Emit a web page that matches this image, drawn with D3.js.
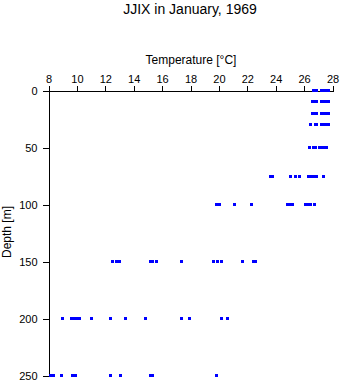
<!DOCTYPE html>
<html><head><meta charset="utf-8">
<script src="https://cdn.jsdelivr.net/npm/d3@7/dist/d3.min.js"></script>
<style>body{margin:0;background:#fff}svg{display:block}text{font-family:"Liberation Sans",Arial,sans-serif;fill:#000}</style>
</head><body><svg id="c" width="341" height="384"></svg>
<script>
const title = "JJIX in January, 1969";
const xLabel = "Temperature [°C]";
const yLabel = "Depth [m]";
const xTicks = [8,10,12,14,16,18,20,22,24,26,28];
const yTicks = [0,50,100,150,200,250];
const depths = [0,10,20,30,50,75,100,150,200,250];
const temps = [
  [26.66,26.8,26.9,27.25,27.4,27.55,27.7],
  [26.6,26.75,26.9,27.25,27.4,27.55,27.7],
  [26.6,26.75,26.9,27.25,27.4,27.55,27.7],
  [26.45,26.8,26.9,27.25,27.4,27.55,27.7],
  [26.4,26.66,26.8,27.1,27.25,27.4,27.55,27.6],
  [23.65,23.8,25.05,25.4,25.65,26.3,26.5,26.7,26.9,27.4],
  [19.85,20.05,21.1,22.3,24.8,25.0,25.15,26.1,26.3,26.45,26.7],
  [12.5,12.8,13.0,15.15,15.3,15.6,17.4,19.6,19.9,20.2,21.65,22.45,22.6],
  [9.0,9.6,9.8,10.0,10.15,11.05,12.4,13.4,14.8,17.4,17.9,20.2,20.6],
  [8.15,8.35,8.9,9.7,9.9,12.4,13.05,15.15,15.3,19.8]
];

const svg = d3.select("#c");
const x = d3.scaleLinear().domain([8,28]).range([48,332]);
const y = d3.scaleLinear().domain([0,250]).range([90,375]);

svg.append("text").attr("x",190).attr("y",14).attr("text-anchor","middle")
  .style("font-size","14px").text(title);
svg.append("text").attr("x",191).attr("y",64).attr("text-anchor","middle")
  .style("font-size","12px").text(xLabel);
svg.append("text").attr("transform","translate(11,232) rotate(-90)").attr("text-anchor","middle")
  .style("font-size","12px").text(yLabel);

const gx = svg.append("g").attr("transform","translate(0.5,90.5)")
  .call(d3.axisTop(x).tickValues(xTicks).tickSize(5).tickSizeOuter(5).tickPadding(3));
const gy = svg.append("g").attr("transform","translate(48.5,0.5)")
  .call(d3.axisLeft(y).tickValues(yTicks).tickSize(6).tickSizeOuter(0).tickPadding(5));
[gx,gy].forEach(g=>{
  g.select(".domain").attr("stroke","#000").attr("stroke-width",1).attr("shape-rendering","crispEdges");
  g.selectAll(".tick line").attr("stroke","#000").attr("stroke-width",1).attr("shape-rendering","crispEdges");
  g.selectAll("text").style("font-size","11px").style("font-family","'Liberation Sans',Arial,sans-serif").attr("fill","#000");
});

const pts = [];
depths.forEach((d,i)=>temps[i].forEach(t=>pts.push({d,t})));
svg.append("g").selectAll("rect").data(pts).join("rect")
  .attr("x",p=>Math.round(x(p.t))-1).attr("y",p=>Math.round(y(p.d))-1)
  .attr("width",3).attr("height",3).attr("fill","#0000ff");
</script></body></html>
